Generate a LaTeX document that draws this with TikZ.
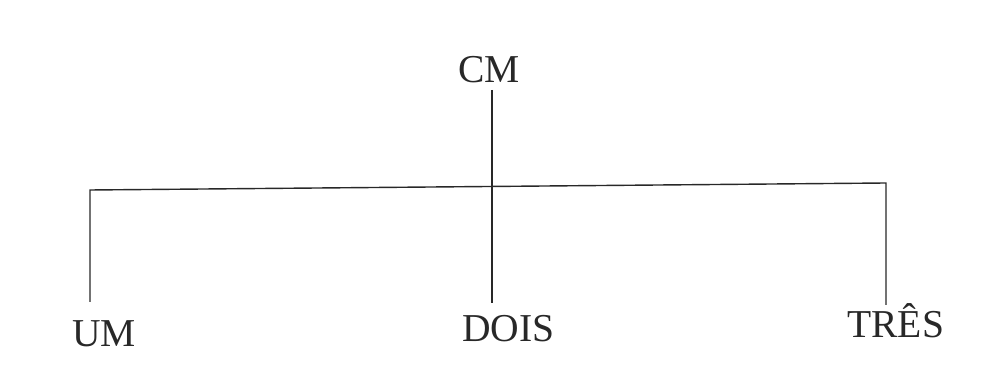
\documentclass[tikz,border=0pt]{standalone}
\usepackage{fontspec}
\setmainfont{Liberation Serif}
\usepackage{tikz}
\usetikzlibrary{positioning}
\definecolor{inkgray}{RGB}{40,40,40}
\tikzset{
  word/.style={font=\fontsize{22.5}{27}\selectfont,text=inkgray,inner sep=0pt},
  branch/.style={draw=inkgray,line width=0.8pt},
  every picture/.style={x=0.02cm,y=0.02cm}
}
\begin{document}
\begin{tikzpicture}
      \useasboundingbox (0,0) rectangle (1001,375);
      \node[word,anchor=base] (cm) at (489,292) {CM};
      \node[word,anchor=base west] (um) at (72,28) {UM}; \node[word,anchor=base west] (dois) at (462,33) {DOIS}; \node[word,anchor=base west] (tres) at (847,37) {TRÊS};
      \coordinate (cmfoot) at (492,285); \coordinate (lcorner) at (90,185); \coordinate (rcorner) at (886,192);
      \coordinate (umtop) at (90,73); \coordinate (doistop) at (492,72); \coordinate (trestop) at (886,70);
      \draw[branch] (cmfoot) -- (doistop);
      \draw[branch] (umtop) -- (lcorner) -- (rcorner) -- (trestop);
    \end{tikzpicture}
\end{document}
